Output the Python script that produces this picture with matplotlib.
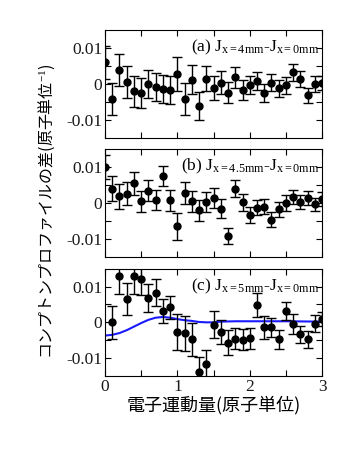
import numpy as np
import matplotlib
matplotlib.use('Agg')
import matplotlib.pyplot as plt

plt.rcParams['font.family'] = ['Liberation Serif', 'DejaVu Serif']
plt.rcParams['mathtext.fontset'] = 'custom'
plt.rcParams['mathtext.rm'] = 'Liberation Serif'
plt.rcParams['mathtext.it'] = 'Liberation Serif:italic'
plt.rcParams['axes.unicode_minus'] = False

# electron momentum (atomic units)
q_ab = np.round(np.arange(0, 31) * 0.1, 1)
q_c = np.round(np.arange(1, 31) * 0.1, 1)

# (a) J(x=4mm) - J(x=0mm)
diff_a = [0.0060, -0.0042, 0.0039, 0.0006, -0.0020, -0.0024, 0.0000, -0.0009, -0.0015, -0.0016,
          0.0028, -0.0041, 0.0012, -0.0060, 0.0015, -0.0011, 0.0004, -0.0024, 0.0019, -0.0016,
          -0.0004, 0.0007, -0.0025, 0.0004, -0.0012, -0.0004, 0.0032, 0.0013, -0.0031, 0.0000,
          0.0003]
err_a = [0.0045, 0.0045, 0.0045, 0.0045, 0.0043, 0.0042, 0.0040, 0.0039, 0.0039, 0.0039,
         0.0048, 0.0044, 0.0041, 0.0039, 0.0035, 0.0034, 0.0033, 0.0030, 0.0029, 0.0028,
         0.0025, 0.0025, 0.0026, 0.0023, 0.0023, 0.0023, 0.0023, 0.0022, 0.0021, 0.0021,
         0.0020]

# (b) J(x=4.5mm) - J(x=0mm)
diff_b = [0.0100, 0.0040, 0.0018, 0.0025, 0.0055, 0.0004, 0.0034, 0.0009, 0.0074, 0.0007,
          -0.0065, 0.0027, 0.0004, -0.0020, 0.0003, 0.0013, -0.0016, -0.0092, 0.0040, 0.0002,
          -0.0033, -0.0013, -0.0011, -0.0047, -0.0018, 0.0000, 0.0016, 0.0002, 0.0013, -0.0004,
          0.0011]
err_b = [0.0034, 0.0034, 0.0034, 0.0032, 0.0032, 0.0029, 0.0029, 0.0028, 0.0028, 0.0028,
         0.0037, 0.0031, 0.0028, 0.0029, 0.0028, 0.0028, 0.0027, 0.0023, 0.0023, 0.0024,
         0.0022, 0.0021, 0.0021, 0.0021, 0.0020, 0.0021, 0.0019, 0.0020, 0.0020, 0.0018,
         0.0019]

# (c) J(x=5mm) - J(x=0mm)
diff_c = [0.0000, 0.0130, 0.0065, 0.0130, 0.0120, 0.0068, 0.0083, 0.0031, 0.0042, -0.0028,
          -0.0031, -0.0048, -0.0139, -0.0118, -0.0007, -0.0028, -0.0057, -0.0046, -0.0049, -0.0045,
          0.0048, -0.0014, -0.0014, -0.0048, 0.0032, -0.0006, -0.0034, -0.0048, -0.0004, 0.0009]
err_c = [0.0047, 0.0050, 0.0045, 0.0050, 0.0044, 0.0040, 0.0038, 0.0033, 0.0032, 0.0050,
         0.0048, 0.0045, 0.0042, 0.0040, 0.0038, 0.0034, 0.0035, 0.0030, 0.0029, 0.0029,
         0.0033, 0.0032, 0.0027, 0.0026, 0.0026, 0.0028, 0.0025, 0.0025, 0.0024, 0.0020]

# theory curve for (c)
q_fit = [0.0, 0.1, 0.2, 0.3, 0.4, 0.5, 0.6, 0.7, 0.8, 0.9, 1.0, 1.1, 1.2, 1.3, 1.4,
         1.5, 1.6, 1.8, 2.0, 2.5, 3.0]
fit_c = [-0.0037, -0.0035, -0.0030, -0.0022, -0.0012, -0.0002, 0.0007, 0.0013, 0.0015, 0.0013,
         0.0009, 0.0006, 0.0004, 0.0001, 0.0000, 0.0000, 0.0002, 0.0003, 0.0003, 0.0003, 0.0002]

labels = [r'(a) J$_{\mathrm{x=4mm}}$-J$_{\mathrm{x=0mm}}$',
          r'(b) J$_{\mathrm{x=4.5mm}}$-J$_{\mathrm{x=0mm}}$',
          r'(c) J$_{\mathrm{x=5mm}}$-J$_{\mathrm{x=0mm}}$']

fig = plt.figure(figsize=(3.42, 4.54), dpi=100)
left, width = 0.307, 0.635
ax_a = fig.add_axes([left, 0.696, width, 0.238])
ax_b = fig.add_axes([left, 0.434, width, 0.238])
ax_c = fig.add_axes([left, 0.172, width, 0.236])

panels = [(ax_a, q_ab, diff_a, err_a), (ax_b, q_ab, diff_b, err_b), (ax_c, q_c, diff_c, err_c)]
for i, (ax, q, d, e) in enumerate(panels):
    ax.errorbar(q, d, yerr=e, fmt='o', color='black', ms=5, elinewidth=1,
                capsize=3.5, capthick=1, zorder=3)
    ax.set_xlim(0, 3)
    ax.set_ylim(-0.015, 0.015)
    ax.set_xticks([0, 1, 2, 3])
    ax.set_xticks([0.5, 1.5, 2.5], minor=True)
    ax.set_yticks([-0.01, 0, 0.01])
    ax.set_yticklabels(['-0.01', '0', '0.01'])
    ax.set_yticks([-0.005, 0.005], minor=True)
    ax.tick_params(which='both', direction='in', top=True, right=True,
                   length=4.5, width=0.8, labelsize=12.5, labelcolor='#1a1a1a', pad=2)
    for s in ax.spines.values():
        s.set_linewidth(0.8)
    if i < 2:
        ax.set_xticklabels([])
    ax.text(0.985, 0.84, labels[i], transform=ax.transAxes, ha='right', va='center',
            fontsize=12.5)

ax_c.plot(q_fit, fit_c, color='#1a1aff', lw=1.5, zorder=2)
ax_c.set_xticklabels(['0', '1', '2', '3'])

ax_c.set_xlabel('電子運動量(原子単位)', family=['Noto Sans CJK JP', 'DejaVu Sans'],
                fontsize=13, labelpad=1)
fig.text(0.137, 0.535, 'コンプトンプロファイルの差(原子単位$^{-1}$)',
         family=['Noto Sans CJK JP', 'DejaVu Sans'], fontsize=11.5,
         rotation=90, ha='center', va='center')

fig.savefig('out.png', dpi=100)
